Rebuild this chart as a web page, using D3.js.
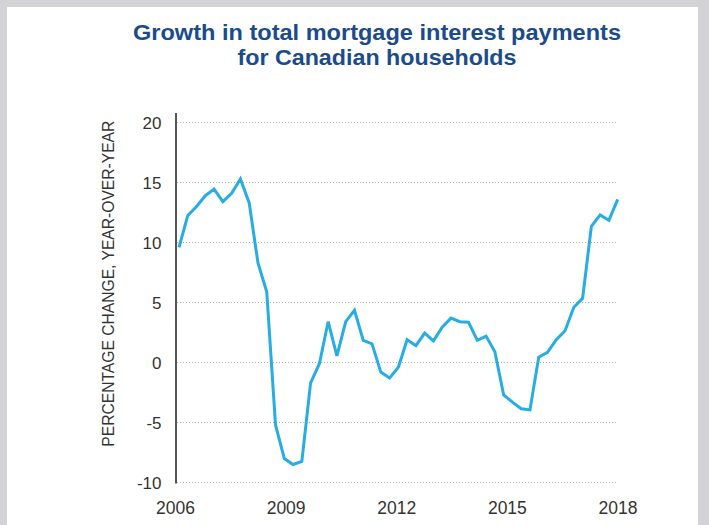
<!DOCTYPE html>
<html>
<head>
<meta charset="utf-8">
<script src="https://cdn.jsdelivr.net/npm/d3@7"></script>
<style>
  html, body { margin: 0; padding: 0; background: #d3d2d5; }
  #chart { position: absolute; left: 0; top: 0; }
</style>
</head>
<body>
<div id="chart"></div>
<script>
'use strict';

// ── Data ──────────────────────────────────────────────────────────────────
const TITLE_LINES = ['Growth in total mortgage interest payments', 'for Canadian households'];
const Y_LABEL = 'PERCENTAGE CHANGE, YEAR-OVER-YEAR';
const Y_TICKS = [20, 15, 10, 5, 0, -5, -10];
const X_TICKS = [2006, 2009, 2012, 2015, 2018];

// growth %, one point per period, left to right
const growth = [
  9.6, 12.25, 13.0, 13.9, 14.45, 13.4, 14.1, 15.3, 13.3, 8.3,
  5.9, -5.2, -8.0, -8.5, -8.25, -1.7, -0.1, 3.4, 0.55, 3.4,
  4.35, 1.85, 1.55, -0.8, -1.3, -0.4, 1.9, 1.4, 2.45, 1.8,
  2.95, 3.7, 3.4, 3.35, 1.85, 2.2, 0.9, -2.7, -3.3, -3.85,
  -3.95, 0.45, 0.85, 1.9, 2.65, 4.6, 5.35, 11.35, 12.3, 11.85,
  13.6
];

// ── Layout ────────────────────────────────────────────────────────────────
const W = 709, H = 525;

const svg = d3.select('#chart').append('svg')
  .attr('width', W).attr('height', H);

// white panel inside grey frame
svg.append('rect')
  .attr('x', 7).attr('y', 7)
  .attr('width', W - 7 - 11).attr('height', H - 7)
  .attr('fill', '#ffffff');

const y = d3.scaleLinear().domain([-10, 20]).range([482.5, 122.5]);
const xYear = d3.scaleLinear().domain([2006, 2018]).range([175.5, 618]);
const xIdx = d3.scaleLinear().domain([0, growth.length - 1]).range([179, 617.7]);

// ── Title ─────────────────────────────────────────────────────────────────
const titleW = [488, 279];
TITLE_LINES.forEach((t, i) => {
  svg.append('text')
    .attr('x', 377).attr('y', 40 + i * 25)
    .attr('text-anchor', 'middle')
    .attr('font-family', 'Liberation Sans, Arial, sans-serif')
    .attr('font-size', '21.5px')
    .attr('font-weight', '700')
    .attr('fill', '#1a4b8c')
    .attr('textLength', titleW[i])
    .attr('lengthAdjust', 'spacingAndGlyphs')
    .text(t);
});

// ── Grid ──────────────────────────────────────────────────────────────────
svg.append('g')
  .selectAll('line')
  .data(Y_TICKS)
  .join('line')
  .attr('x1', 177).attr('x2', 618)
  .attr('y1', d => y(d)).attr('y2', d => y(d))
  .attr('stroke', '#b0b0b0')
  .attr('stroke-width', 1)
  .attr('stroke-dasharray', '1,2');

// y axis line
svg.append('line')
  .attr('x1', 176).attr('x2', 176)
  .attr('y1', 113).attr('y2', y(-10) + 1)
  .attr('stroke', '#555')
  .attr('stroke-width', 2);

// ── Tick labels ───────────────────────────────────────────────────────────
svg.append('g')
  .selectAll('text')
  .data(Y_TICKS)
  .join('text')
  .attr('x', 161.5)
  .attr('y', d => y(d) + 6)
  .attr('text-anchor', 'end')
  .attr('font-family', 'Liberation Sans, Arial, sans-serif')
  .attr('font-size', '17px')
  .attr('fill', '#333')
  .text(d => d);

svg.append('g')
  .selectAll('text')
  .data(X_TICKS)
  .join('text')
  .attr('x', d => xYear(d))
  .attr('y', 513.5)
  .attr('text-anchor', 'middle')
  .attr('font-family', 'Liberation Sans, Arial, sans-serif')
  .attr('font-size', '17.5px')
  .attr('fill', '#333')
  .text(d => d);

// y-axis title
svg.append('text')
  .attr('transform', 'translate(113.5,283.7) rotate(-90)')
  .attr('text-anchor', 'middle')
  .attr('font-family', 'Liberation Sans, Arial, sans-serif')
  .attr('font-size', '16px')
  .attr('fill', '#333')
  .attr('textLength', 326)
  .attr('lengthAdjust', 'spacingAndGlyphs')
  .text(Y_LABEL);

// ── Line ──────────────────────────────────────────────────────────────────
const line = d3.line()
  .x((d, i) => xIdx(i))
  .y(d => y(d));

svg.append('path')
  .datum(growth)
  .attr('d', line)
  .attr('fill', 'none')
  .attr('stroke', '#28ade3')
  .attr('stroke-width', 3)
  .attr('stroke-linejoin', 'miter');
</script>
</body>
</html>
